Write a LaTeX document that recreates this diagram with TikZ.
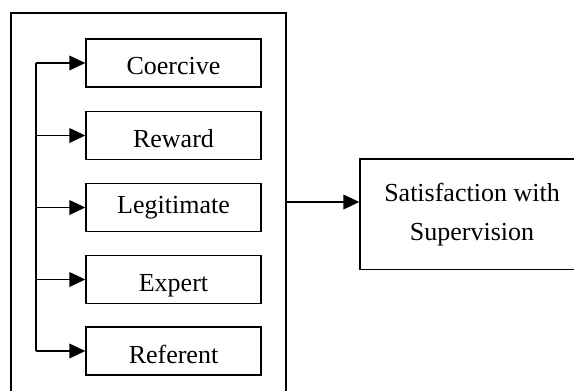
\documentclass[tikz,border=0pt]{standalone}
\usepackage{fontspec}
\setmainfont{Liberation Serif}
\usetikzlibrary{arrows.meta}

\tikzset{
	powerbox/.style={draw, line width=1pt, minimum width=131.25pt, minimum height=36pt,
		inner sep=0pt, text height=18pt, text depth=0pt},
	feed/.style={line width=1.1pt, -{Triangle[length=12pt,width=11pt]}}
}

\begin{document}
\begin{tikzpicture}[x=0.75pt, y=-0.75pt, font=\fontsize{19.5}{29}\selectfont]
		\useasboundingbox (0,0) rectangle (574,391);
		\clip (0,0) rectangle (574,391);

		% outer frame and outcome box
		\draw [line width=1.2pt] (11,13) rectangle (286,398);
		\coordinate (join) at (286,202);
		\node [draw, line width=1pt, minimum width=168pt, minimum height=83pt, align=center]
			(satisfaction) at (472,214.5) {Satisfaction with\\Supervision};

		% the five bases of power
		\node [powerbox] (coercive) at (173.5,63) {Coercive};
		\node [powerbox] (reward) at (173.5,135.5) {Reward};
		\node [powerbox, text height=9.75pt] (legitimate) at (173.5,207.5) {Legitimate};
		\node [powerbox] (expert) at (173.5,279.5) {Expert};
		\node [powerbox] (referent) at (173.5,351) {Referent};

		% trunk and branches
		\coordinate (trunk) at (36,0);
		\draw [line width=1.1pt] (coercive.west -| trunk) -- (referent.west -| trunk);
		\draw [feed] (coercive.west -| trunk) -- (coercive.west);
		\draw [feed] (reward.west -| trunk) -- (reward.west);
		\draw [feed] (legitimate.west -| trunk) -- (legitimate.west);
		\draw [feed] (expert.west -| trunk) -- (expert.west);
		\draw [feed] (referent.west -| trunk) -- (referent.west);

		% link to outcome
		\draw [feed] (join) -- (join -| satisfaction.west);
		\end{tikzpicture}
\end{document}
